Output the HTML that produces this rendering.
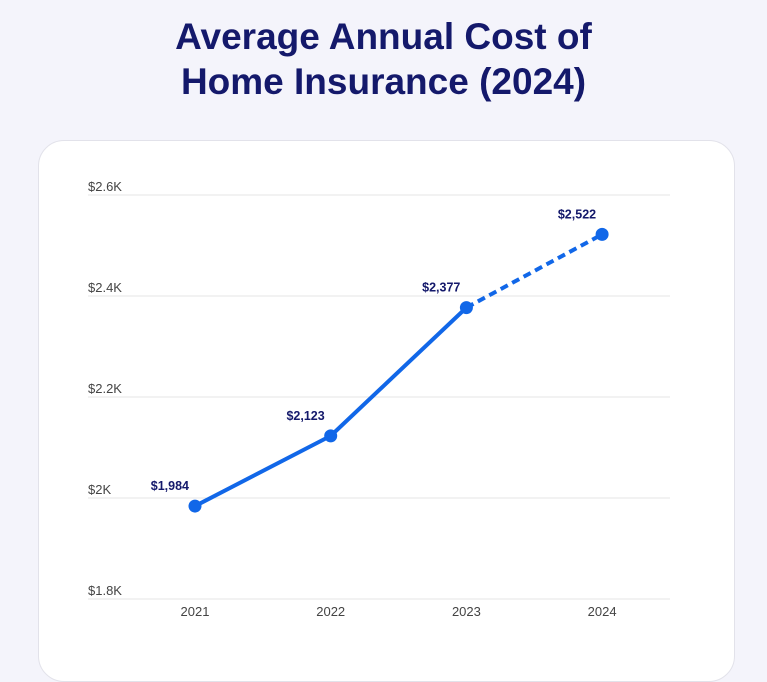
<!DOCTYPE html>
<html><head><meta charset="utf-8"><style>
body{margin:0;width:767px;height:640px;background:#f4f4fb;font-family:"Liberation Sans",sans-serif;overflow:hidden;position:relative}
h1{position:absolute;top:14px;left:0;width:767px;margin:0;text-align:center;color:#14196b;font-size:37px;line-height:45px;font-weight:bold}
.card{position:absolute;left:38px;top:140px;width:695px;height:540px;background:#fff;border:1px solid #e2e2ea;border-radius:26px}
svg{position:absolute;left:0;top:0}
</style></head><body>
<h1>Average Annual Cost of<br>Home Insurance (2024)</h1>
<div class="card"></div>
<svg id="chart" width="767" height="640"></svg>
<script>
const categories=["2021","2022","2023","2024"];
const values=[1984,2123,2377,2522];
const valueLabels=["$1,984","$2,123","$2,377","$2,522"];
const yTicks=[1800,2000,2200,2400,2600];
const yTickLabels=["$1.8K","$2K","$2.2K","$2.4K","$2.6K"];
const svg=document.getElementById('chart');const NS='http://www.w3.org/2000/svg';
const y=v=>599-(v-1800)/200*101;
const x=i=>195+i*135.7;
function mk(t,a,p){const e=document.createElementNS(NS,t);for(const k in a)e.setAttribute(k,a[k]);(p||svg).appendChild(e);return e;}
yTicks.forEach((t,i)=>{
 const l=mk('line',{x1:88,x2:670,y1:y(t),y2:y(t),stroke:'#e6e6e6','stroke-width':1});
 
 
 const tx=mk('text',{x:88,y:y(t)-4,'font-size':13,fill:'#444'});tx.textContent=yTickLabels[i];
 
 
});
categories.forEach((c,i)=>{
 const tx=mk('text',{x:x(i),y:616,'font-size':13,fill:'#444','text-anchor':'middle'});tx.textContent=c;
 
 
});
const n=values.length;
const pts=values.map((v,i)=>x(i)+','+y(v));
const solid=mk('polyline',{points:pts.slice(0,n-1).join(' '),fill:'none',stroke:'#1167e8','stroke-width':4,'stroke-linejoin':'round'});


const dash=mk('polyline',{points:pts.slice(n-2).join(' '),fill:'none',stroke:'#1167e8','stroke-width':4,'stroke-dasharray':'8 5'});


values.forEach((v,i)=>{
 const c=mk('circle',{cx:x(i),cy:y(v),r:6.5,fill:'#1167e8'});
 
 
 const t=mk('text',{x:x(i)-6,y:y(v)-16,'font-size':12.5,'font-weight':'bold',fill:'#14196b','text-anchor':'end'});t.textContent=valueLabels[i];
 
 
});
</script>
</body></html>
